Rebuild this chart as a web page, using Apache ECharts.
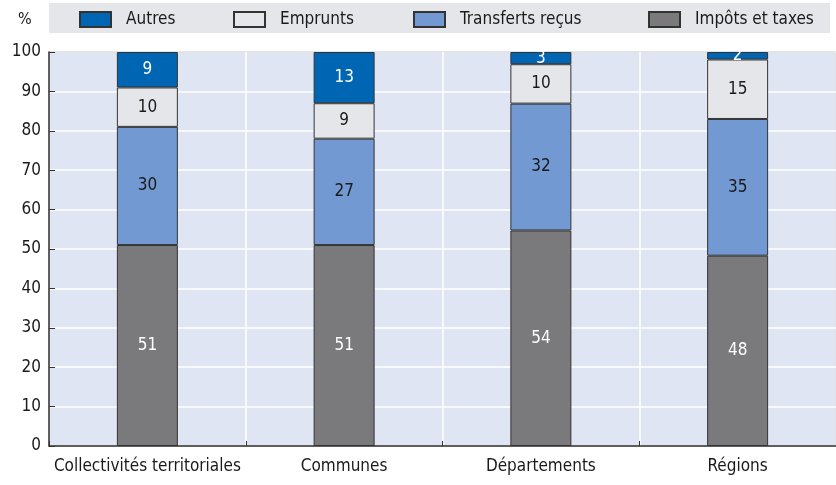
<!DOCTYPE html>
<html>
<head>
<meta charset="utf-8">
<script src="https://cdn.jsdelivr.net/npm/echarts@6/dist/echarts.min.js"></script>
<style>
  html, body { margin: 0; padding: 0; background: #ffffff; }
  #chart { width: 836px; height: 485px; }
</style>
</head>
<body>
<div id="chart"></div>
<script>
const categories = ["Collectivités territoriales", "Communes", "Départements", "Régions"];
const yTicks = [0, 10, 20, 30, 40, 50, 60, 70, 80, 90, 100];
const legendNames = ["Autres", "Emprunts", "Transferts reçus", "Impôts et taxes"];

// heights, labels as printed
const impots = [51, 51, 54.7, 48.3];
const impotsLabels = [51, 51, 54, 48];
const transferts = [30, 27, 32.2, 34.7];
const transfertsLabels = [30, 27, 32, 35];
const emprunts = [10, 9, 10, 15.1];
const empruntsLabels = [10, 9, 10, 15];
const autres = [9, 13, 3.1, 1.9];
const autresLabels = [9, 13, 3, 2];

const font = '"Liberation Sans Narrow", "DejaVu Sans Condensed", "Roboto", sans-serif';
const textColor = "#1a1a1a";

function makeSeries(name, values, labels, color, labelColor) {
  return {
    name,
    type: "bar",
    stack: "total",
    barWidth: "31%",
    data: values.map((v, i) => ({ value: v, label: { formatter: String(labels[i]) } })),
    itemStyle: { color, borderColor: "#333333", borderWidth: 1 },
    label: {
      show: true,
      position: "inside",
      color: labelColor,
      fontFamily: font,
      fontSize: 17,
    },
  };
}

// one legend per entry so each sits where the reference puts it
const legendLeft = [79, 233, 413, 648];
const legends = legendNames.map((name, i) => ({
  left: legendLeft[i],
  top: 11,
  padding: 0,
  itemWidth: 31,
  itemHeight: 15,
  icon: "rect",
  data: [name],
  textStyle: {
    color: textColor,
    fontFamily: font,
    fontSize: 17,
    padding: [0, 0, 0, 10],
  },
}));

const chart = echarts.init(document.getElementById("chart"));

chart.setOption({
  animation: false,
  backgroundColor: "#ffffff",
  graphic: [
    {
      type: "rect",
      shape: { x: 49, y: 3, width: 781, height: 30 },
      style: { fill: "#e5e6ea" },
      silent: true,
      z: -1,
    },
    {
      type: "text",
      left: 18,
      top: 12,
      style: { text: "%", fill: textColor, font: "16px " + font },
    },
  ],
  legend: legends,
  grid: {
    left: 49,
    right: 0,
    top: 52,
    bottom: 39,
    show: true,
    backgroundColor: "#dfe5f3",
    borderColor: "#333333",
    borderWidth: 1,
  },
  xAxis: {
    type: "category",
    data: categories,
    axisLine: { lineStyle: { color: "#333333", width: 1.5 } },
    axisTick: { show: true, inside: true, length: 5, interval: 0, lineStyle: { color: "#333333" } },
    splitLine: { show: true, interval: 0, lineStyle: { color: "#ffffff", width: 1.5 } },
    axisLabel: { color: textColor, fontFamily: font, fontSize: 17, margin: 12, interval: 0 },
  },
  yAxis: {
    type: "value",
    min: yTicks[0],
    max: yTicks[yTicks.length - 1],
    interval: 10,
    axisLine: { show: true, lineStyle: { color: "#333333", width: 1.5 } },
    axisTick: { show: true, inside: true, length: 6, lineStyle: { color: "#333333" } },
    splitLine: { show: true, lineStyle: { color: "#ffffff", width: 1.5 } },
    axisLabel: { color: textColor, fontFamily: font, fontSize: 17, margin: 8 },
  },
  series: [
    makeSeries("Impôts et taxes", impots, impotsLabels, "#7a7a7c", "#ffffff"),
    makeSeries("Transferts reçus", transferts, transfertsLabels, "#7299d1", "#1a1a1a"),
    makeSeries("Emprunts", emprunts, empruntsLabels, "#e5e6e9", "#1a1a1a"),
    makeSeries("Autres", autres, autresLabels, "#0066b3", "#ffffff"),
  ],
});
</script>
</body>
</html>
